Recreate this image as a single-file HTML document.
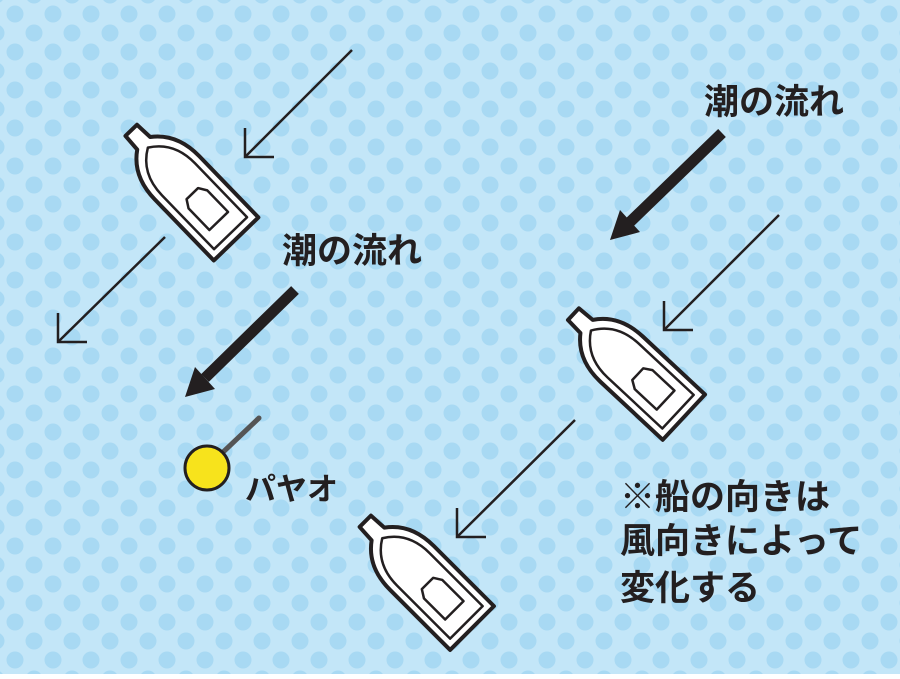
<!DOCTYPE html>
<html><head><meta charset="utf-8"><style>
body{margin:0}
svg text{font-family:"Liberation Sans","Noto Sans CJK JP",sans-serif;font-weight:bold;fill:#231f20}
</style></head><body>
<svg width="900" height="674" viewBox="0 0 900 674" xmlns="http://www.w3.org/2000/svg">
<defs>
<pattern id="dots" width="38" height="38" patternUnits="userSpaceOnUse" x="-4" y="-5">
<rect width="38" height="38" fill="#c3e6f8"/>
<circle cx="19" cy="19" r="8.5" fill="#a8d9f3"/>
<circle cx="0" cy="0" r="8.5" fill="#a8d9f3"/>
<circle cx="38" cy="0" r="8.5" fill="#a8d9f3"/>
<circle cx="0" cy="38" r="8.5" fill="#a8d9f3"/>
<circle cx="38" cy="38" r="8.5" fill="#a8d9f3"/>
</pattern>
<g id="boat" stroke="#231f20" stroke-linejoin="round" fill="#fff">
<path d="M-8,-76 L8,-76 L9,-58 Q31,-42 31,-10 L31,75 L-31,75 L-31,-10 Q-31,-42 -9,-58 Z" stroke-width="4"/>
<path d="M0,-52 Q23,-38 23,-8 L23,67 L-23,67 L-23,-8 Q-23,-38 0,-52 Z" stroke-width="2.5" fill="none"/>
<path d="M-13,20 L-8,12 L8,12 L13,20 L13,50 L-13,50 Z" stroke-width="2.5"/>
</g>
</defs>
<rect width="900" height="674" fill="url(#dots)"/>
<g transform="translate(184,185) rotate(-44)"><use href="#boat"/></g>
<g transform="translate(629,366) rotate(-47)"><use href="#boat"/></g>
<g transform="translate(419,575) rotate(-45)"><use href="#boat"/></g>
<g stroke="#231f20" stroke-width="2.5" fill="none">
<line x1="352" y1="50" x2="245" y2="157"/><polyline points="245,128 245,157 274,157"/>
<line x1="165" y1="237" x2="58" y2="342"/><polyline points="58,313 58,342 87,342"/>
<line x1="779" y1="215" x2="664" y2="330"/><polyline points="664,301 664,330 693,330"/>
<line x1="575" y1="420" x2="457" y2="537"/><polyline points="457,508 457,537 486,537"/>
</g>
<g stroke="#231f20" stroke-width="11">
<line x1="722" y1="133" x2="630" y2="222"/>
<line x1="295" y1="290" x2="205" y2="378"/>
</g>
<polygon points="610,240 620,210 640,232" fill="#231f20"/>
<polygon points="185,397 195,367 215,389" fill="#231f20"/>
<line x1="220" y1="455" x2="259" y2="418" stroke="#555" stroke-width="5" stroke-linecap="round"/>
<circle cx="207" cy="468" r="22" fill="#f7e31c" stroke="#231f20" stroke-width="3"/>
<text x="704" y="114" font-size="35">潮の流れ</text>
<text x="282" y="263" font-size="35">潮の流れ</text>
<text x="245" y="500" font-size="31">パヤオ</text>
<text x="620" y="509" font-size="35">※船の向きは</text>
<text x="620" y="553" font-size="35">風向きによって</text>
<text x="620" y="600" font-size="35">変化する</text>
</svg>
</body></html>
